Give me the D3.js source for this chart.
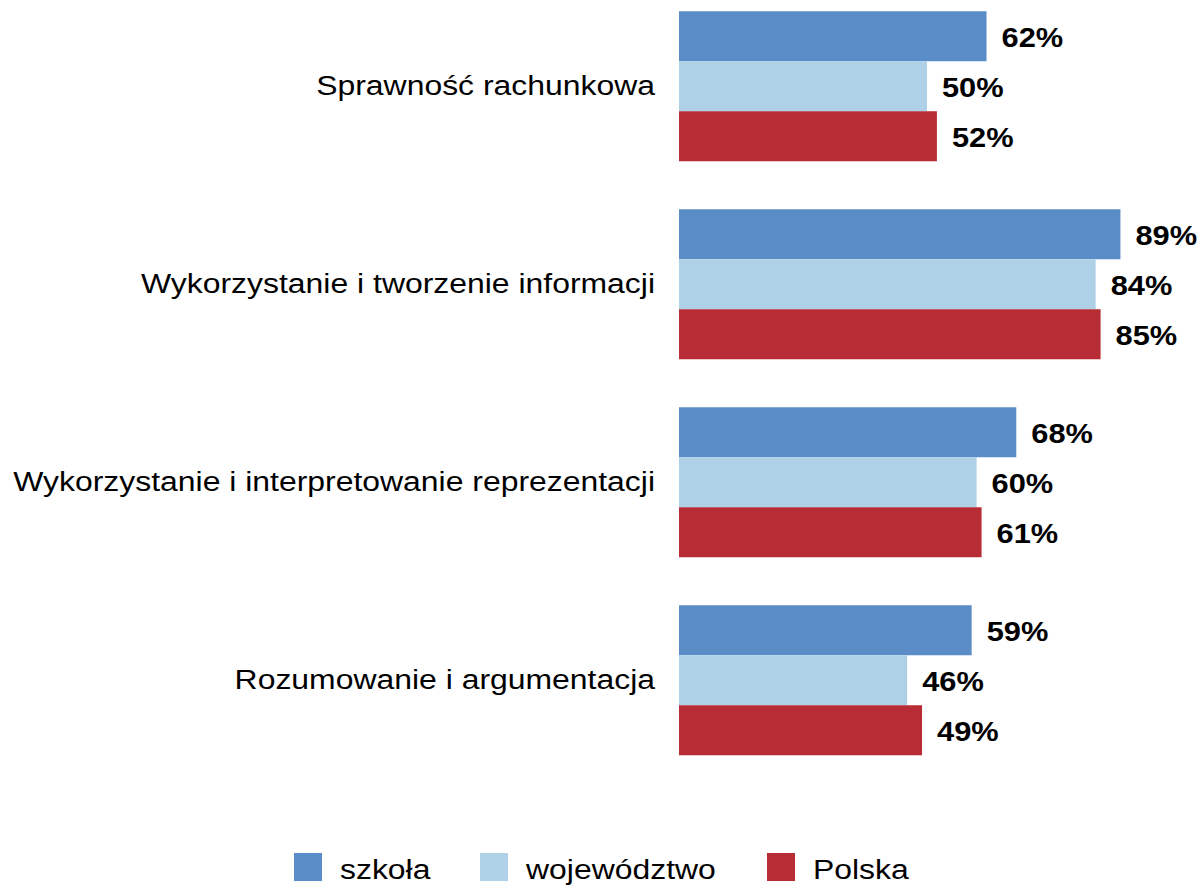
<!DOCTYPE html>
<html>
<head>
<meta charset="utf-8">
<script src="https://cdn.jsdelivr.net/npm/d3@7"></script>
<style>
  body { margin: 0; background: #fff; }
  svg { display: block; font-family: "Liberation Sans", Arial, sans-serif; }
</style>
</head>
<body>
<svg width="1204" height="886"></svg>
<script>
const categories = [
  "Sprawność rachunkowa",
  "Wykorzystanie i tworzenie informacji",
  "Wykorzystanie i interpretowanie reprezentacji",
  "Rozumowanie i argumentacja"
];
const seriesNames = ["szkoła", "województwo", "Polska"];
const szkola = [62, 89, 68, 59];
const wojewodztwo = [50, 84, 60, 46];
const polska = [52, 85, 61, 49];
const colors = ["#5A8DC8", "#AED1E7", "#B72C35"];

const seriesValues = [szkola, wojewodztwo, polska];
const rows = categories.map((c, i) => ({
  cat: c,
  vals: seriesNames.map((s, j) => ({ key: s, value: seriesValues[j][i], idx: j }))
}));

// text in the original is a bit wider than Liberation Sans
const stretch = 1.14;
const stretchBold = 1.1;

const svg = d3.select("svg");

const x = d3.scaleLinear().domain([0, 100]).range([679, 1175]);
const y0 = d3.scaleBand()
  .domain(categories)
  .range([-12.75, 779.25])
  .paddingInner(0.2424)
  .paddingOuter(0.1212);
const y1 = d3.scaleBand().domain(seriesNames).range([0, y0.bandwidth()]);

const groups = svg.append("g")
  .selectAll("g")
  .data(rows)
  .join("g")
  .attr("transform", (d) => `translate(0,${y0(d.cat)})`);

groups.selectAll("rect")
  .data((d) => d.vals)
  .join("rect")
  .attr("x", x(0))
  .attr("y", (d) => y1(d.key))
  .attr("width", (d) => x(d.value) - x(0))
  .attr("height", y1.bandwidth())
  .style("fill", (d) => colors[d.idx]);

groups.selectAll("text.val")
  .data((d) => d.vals)
  .join("text")
  .attr("class", "val")
  .attr("transform", (d) =>
    `translate(${x(d.value) + 15},${y1(d.key) + y1.bandwidth() / 2 + 11}) scale(${stretchBold},1)`)
  .style("font-size", "28px")
  .style("font-weight", "bold")
  .style("fill", "#000")
  .text((d) => d.value + "%");

groups.append("text")
  .attr("transform", `translate(${x(0) - 24},${y0.bandwidth() / 2 + 9}) scale(${stretch},1)`)
  .attr("text-anchor", "end")
  .style("font-size", "28px")
  .style("fill", "#000")
  .text((d) => d.cat);

// legend
const legendX = [294, 480, 767];
const legend = svg.append("g")
  .selectAll("g")
  .data(seriesNames)
  .join("g")
  .attr("transform", (d, i) => `translate(${legendX[i]},853)`);

legend.append("rect")
  .attr("width", 28)
  .attr("height", 28)
  .style("fill", (d, i) => colors[i]);

legend.append("text")
  .attr("transform", `translate(46,26) scale(${stretch},1)`)
  .style("font-size", "28px")
  .style("fill", "#000")
  .text((d) => d);
</script>
</body>
</html>
